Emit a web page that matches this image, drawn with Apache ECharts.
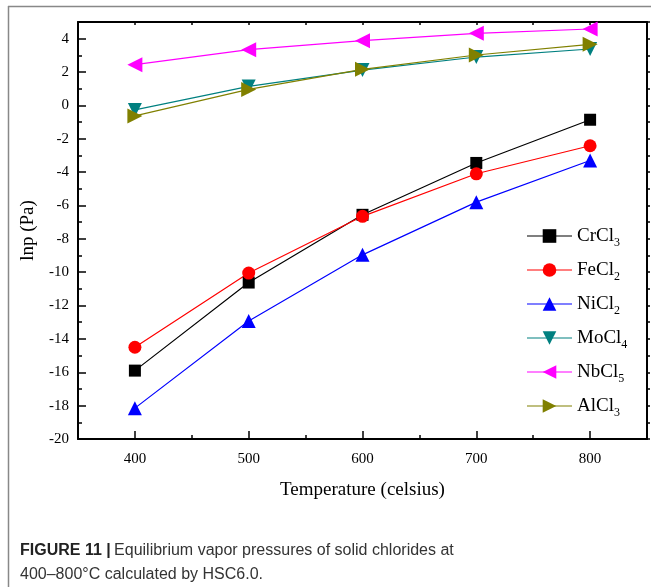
<!DOCTYPE html>
<html>
<head>
<meta charset="utf-8">
<script src="https://cdn.jsdelivr.net/npm/echarts@6/dist/echarts.min.js"></script>
<style>
  html, body { margin: 0; padding: 0; background: #fff; }
  #chart { width: 651px; height: 587px; }
</style>
</head>
<body>
<div id="chart"></div>
<script>
// Temperatures (°C) and ln p (Pa) for each chloride
const temperatures = [400, 500, 600, 700, 800];
const crcl3 = [-15.9, -10.62, -6.56, -3.45, -0.86];
const fecl2 = [-14.5, -10.05, -6.65, -4.1, -2.42];
const nicl2 = [-18.15, -12.92, -8.96, -5.8, -3.3];
const mocl4 = [-0.27, 1.14, 2.12, 2.9, 3.38];
const nbcl5 = [2.44, 3.34, 3.88, 4.32, 4.58];
const alcl3 = [-0.63, 0.96, 2.16, 3.02, 3.66];

// Tick positions
const xMajorTicks = [400, 500, 600, 700, 800];
const xMinorTicks = [450, 550, 650, 750];
const xAllTicks = [350, 400, 450, 500, 550, 600, 650, 700, 750, 800, 850];
const yMajorTicks = [-20, -18, -16, -14, -12, -10, -8, -6, -4, -2, 0, 2, 4];
const yMinorTicks = [-19, -17, -15, -13, -11, -9, -7, -5, -3, -1, 1, 3, 5];
const yAllTicks = yMajorTicks.concat(yMinorTicks).sort((a, b) => a - b);

const seriesDefs = [
  { name: 'CrCl3', data: crcl3, color: '#000000', symbol: 'rect', size: 12, rotate: 0 },
  { name: 'FeCl2', data: fecl2, color: '#ff0000', symbol: 'circle', size: 13, rotate: 0 },
  { name: 'NiCl2', data: nicl2, color: '#0000ff', symbol: 'triangle', size: 14, rotate: 0 },
  { name: 'MoCl4', data: mocl4, color: '#008080', symbol: 'triangle', size: 14, rotate: 180 },
  { name: 'NbCl5', data: nbcl5, color: '#ff00ff', symbol: 'triangle', size: 15, rotate: 90 },
  { name: 'AlCl3', data: alcl3, color: '#808000', symbol: 'triangle', size: 15, rotate: -90 }
];

const serif = 'Liberation Serif';
const black = '#000';

const chart = echarts.init(document.getElementById('chart'), null, { renderer: 'canvas' });

const baseX = { type: 'value', min: 350, max: 850, gridIndex: 0, splitLine: { show: false } };
const baseY = { type: 'value', min: -20, max: 5, gridIndex: 0, splitLine: { show: false } };

const option = {
  animation: false,
  backgroundColor: '#fff',
  grid: { left: 78, top: 22, right: 4, bottom: 148, containLabel: false },
  xAxis: [
    Object.assign({}, baseX, {
      position: 'bottom',
      name: 'Temperature (celsius)',
      nameLocation: 'middle',
      nameGap: 42,
      nameTextStyle: { fontFamily: serif, fontSize: 19, color: black },
      axisLine: { onZero: false, lineStyle: { color: black, width: 2 } },
      axisTick: { inside: true, length: 8, customValues: xMajorTicks, lineStyle: { color: black, width: 1.5 } },
      axisLabel: { customValues: xMajorTicks, margin: 13, fontFamily: serif, fontSize: 15, color: black }
    }),
    Object.assign({}, baseX, {
      position: 'bottom',
      axisLine: { show: false, onZero: false },
      axisTick: { inside: true, length: 4, customValues: xMinorTicks, lineStyle: { color: black, width: 1.5 } },
      axisLabel: { show: false }
    }),
    Object.assign({}, baseX, {
      position: 'top',
      axisLine: { onZero: false, lineStyle: { color: black, width: 2 } },
      axisTick: { inside: true, length: 3, customValues: xAllTicks, lineStyle: { color: black, width: 1.5 } },
      axisLabel: { show: false }
    })
  ],
  yAxis: [
    Object.assign({}, baseY, {
      position: 'left',
      name: 'lnp (Pa)',
      nameLocation: 'middle',
      nameGap: 40,
      nameTextStyle: { fontFamily: serif, fontSize: 19, color: black },
      axisLine: { onZero: false, lineStyle: { color: black, width: 2 } },
      axisTick: { inside: true, length: 8, customValues: yMajorTicks, lineStyle: { color: black, width: 1.5 } },
      axisLabel: { customValues: yMajorTicks, margin: 9, fontFamily: serif, fontSize: 15, color: black }
    }),
    Object.assign({}, baseY, {
      position: 'left',
      axisLine: { show: false, onZero: false },
      axisTick: { inside: true, length: 4, customValues: yMinorTicks, lineStyle: { color: black, width: 1.5 } },
      axisLabel: { show: false }
    }),
    Object.assign({}, baseY, {
      position: 'right',
      axisLine: { onZero: false, lineStyle: { color: black, width: 2 } },
      axisTick: { inside: false, length: 3, customValues: yAllTicks, lineStyle: { color: black, width: 1.5 } },
      axisLabel: { show: false }
    })
  ],
  legend: {
    orient: 'vertical',
    left: 521,
    top: 218,
    padding: 5,
    itemWidth: 45,
    itemHeight: 17,
    itemGap: 8,
    selectedMode: false,
    data: seriesDefs.map(s => s.name),
    lineStyle: { width: 2, opacity: 0.5 },
    formatter: function (name) {
      const m = name.match(/^(.*?)(\d+)$/);
      return m ? '{b|' + m[1] + '}{s|' + m[2] + '}' : '{b|' + name + '}';
    },
    textStyle: {
      fontFamily: serif,
      color: black,
      rich: {
        b: { fontFamily: serif, fontSize: 19, color: black, lineHeight: 20 },
        s: { fontFamily: serif, fontSize: 12, color: black, lineHeight: 20, padding: [14, 0, 0, 0] }
      }
    }
  },
  graphic: [
    // figure frame lines
    { type: 'line', shape: { x1: 8, y1: 6.5, x2: 651, y2: 6.5 }, style: { stroke: '#888', lineWidth: 1.5 }, silent: true },
    { type: 'line', shape: { x1: 8.5, y1: 6, x2: 8.5, y2: 587 }, style: { stroke: '#888', lineWidth: 1.5 }, silent: true },
    // caption
    {
      type: 'text', left: 20, top: 543,
      style: {
        text: '{h|FIGURE 11 |} {t|Equilibrium vapor pressures of solid chlorides at}\n{t|400–800°C calculated by HSC6.0.}',
        rich: {
          h: { fontFamily: 'Liberation Sans', fontWeight: 'bold', fontSize: 16, fill: '#222', lineHeight: 24 },
          t: { fontFamily: 'Liberation Sans', fontSize: 16, fill: '#333', lineHeight: 24 }
        }
      }
    }
  ],
  series: seriesDefs.map(s => ({
    name: s.name,
    type: 'line',
    xAxisIndex: 0,
    yAxisIndex: 0,
    data: temperatures.map((t, i) => [t, s.data[i]]),
    symbol: s.symbol,
    symbolSize: s.size,
    symbolRotate: s.rotate,
    showAllSymbol: true,
    lineStyle: { color: s.color, width: 1.2 },
    itemStyle: { color: s.color, borderWidth: 0 },
    emphasis: { disabled: true }
  }))
};

chart.setOption(option);
</script>
</body>
</html>
